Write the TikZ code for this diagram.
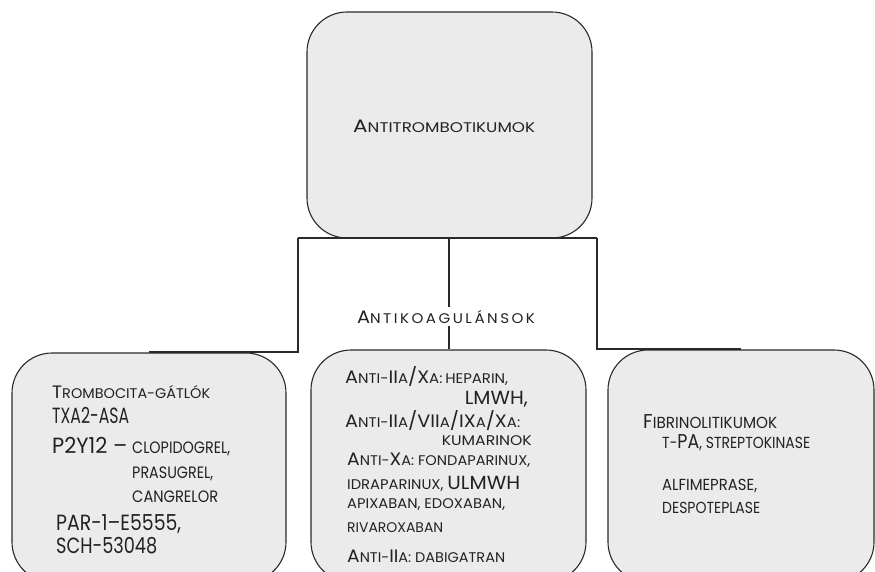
\documentclass[tikz,border=0pt]{standalone}
\usepackage{graphicx}
\usepackage{fontspec}
\setmainfont{Poppins}
\newcommand\capA[1]{{\fontsize{18}{18}\selectfont #1}}
\newcommand\smA[1]{{\fontsize{14}{14}\selectfont #1}}
\newcommand\smL[1]{{\fontsize{16.5}{16.5}\selectfont #1}}
\newcommand\capR[1]{{\fontsize{20}{20}\selectfont #1}}
\newcommand\smR[1]{{\fontsize{16}{16}\selectfont #1}}
\newcommand\medA[1]{{\fontsize{19}{19}\selectfont #1}}
\newcommand\bigA[1]{{\fontsize{22}{22}\selectfont #1}}
\newcommand\fw[2]{\resizebox{#1pt}{\height}{#2}}
\definecolor{boxfill}{HTML}{EBEBEB}
\definecolor{linec}{HTML}{2A2A2A}
\definecolor{textc}{HTML}{222222}
\tikzset{
  box/.style={draw=linec, line width=1.1pt, fill=boxfill, rounded corners=40pt, inner sep=0pt},
  conn/.style={draw=linec, line width=2pt},
  txt/.style={inner sep=0pt, text=textc, anchor=base west},
  txtr/.style={inner sep=0pt, text=textc, anchor=base east},
}
\begin{document}
\begin{tikzpicture}[x=1pt, y=-1pt]
\useasboundingbox (0,0) rectangle (875,571);
\clip (0,0) rectangle (875,571);
\fill[white] (0,0) rectangle (875,571);
% boxes
\node[box, minimum width=285pt, minimum height=226pt] (top) at (449.5,125) {};
\node[box, minimum width=274pt, minimum height=229pt] (left) at (149,467.5) {};
\node[box, minimum width=275pt, minimum height=232pt] (mid) at (448.5,466) {};
\node[box, minimum width=266pt, minimum height=232pt] (right) at (741,466) {};
% connectors
\coordinate (jl) at (298,238);
\coordinate (jr) at (597,238);
\draw[conn] (jl) -- (jr);
\draw[conn] (jl) |- (left.north);
\draw[conn] (jr) |- (right.north);
\draw[conn] (mid.north |- top.south) -- (mid.north);
\node[inner sep=3pt, fill=white, text=textc, anchor=base] (ak) at (446,323)
  {\fw{178}{\capA{A}\smA{N\,T\,I\,K\,O\,A\,G\,U\,L\,Á\,N\,S\,O\,K}}};
% top text
\node[txt] (t1) at (353,132) {\fw{182}{\capA{A}\smA{NTITROMBOTIKUMOK}}};
% left box
\node[txt] (l1) at (52,398) {\fw{158}{\capA{T}\smA{ROMBOCITA-GÁTLÓK}}};
\node[txt] (l2) at (52,423) {\fw{77}{\bigA{TXA2-ASA}}};
\node[txt] (l3) at (52,453) {\fw{75}{\bigA{P2Y12 –}}};
\node[txt] (l3b) at (132,453) {\fw{98}{\smL{CLOPIDOGREL,}}};
\node[txt] (l4) at (132,478) {\fw{81}{\smL{PRASUGREL,}}};
\node[txt] (l5) at (132,502) {\fw{86}{\smL{CANGRELOR}}};
\node[txt] (l6) at (56,530) {\fw{125}{\bigA{PAR-1–E5555,}}};
\node[txt] (l7) at (56,553) {\fw{101}{\bigA{SCH-53048}}};
% middle box
\node[txt] (m1) at (345,383) {\fw{163}{\capA{A}\smA{NTI-}\capA{II}\smA{A}\capA{/X}\smA{A:} \smA{HEPARIN,}}};
\node[txtr] (m2) at (528,404) {\fw{63}{\medA{LMWH,}}};
\node[txt] (m3) at (345,427) {\fw{175}{\capA{A}\smA{NTI-}\capA{II}\smA{A}\capA{/VII}\smA{A}\capA{/IX}\smA{A}\capA{/X}\smA{A:}}};
\node[txtr] (m4) at (532,445) {\fw{90}{\smA{KUMARINOK}}};
\node[txt] (m5) at (347,465) {\fw{183}{\capA{A}\smA{NTI-}\capA{X}\smA{A: FONDAPARINUX,}}};
\node[txt] (m6) at (347,489) {\fw{173}{\smA{IDRAPARINUX, }\medA{ULMWH}}};
\node[txt] (m7) at (347,508) {\fw{158}{\smA{APIXABAN, EDOXABAN,}}};
\node[txt] (m8) at (347,532) {\fw{96}{\smA{RIVAROXABAN}}};
\node[txt] (m9) at (347,562) {\fw{158}{\capA{A}\smA{NTI-}\capA{II}\smA{A: DABIGATRAN}}};
% right box
\node[txt] (r1) at (643,428) {\fw{134}{\capR{F}\smR{IBRINOLITIKUMOK}}};
\node[txt] (r2) at (662,448) {\fw{148}{\smR{T-}\capR{PA}\smR{, STREPTOKINASE}}};
\node[txt] (r3) at (662,490) {\fw{95}{\smR{ALFIMEPRASE,}}};
\node[txt] (r4) at (662,513) {\fw{98}{\smR{DESPOTEPLASE}}};
\end{tikzpicture}
\end{document}
